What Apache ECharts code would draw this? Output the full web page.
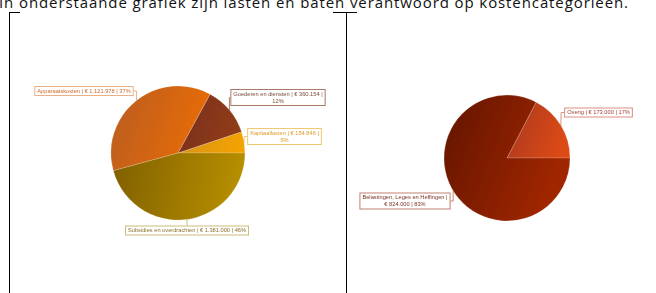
<!DOCTYPE html>
<html>
<head>
<meta charset="utf-8">
<script src="https://cdn.jsdelivr.net/npm/echarts@6/dist/echarts.min.js"></script>
<style>
html, body { margin: 0; padding: 0; background: #fff; }
#intro { position: absolute; left: -1px; top: -5px; font: 15px/15px 'Open Sans', sans-serif; letter-spacing: 0.9px; color: #111; white-space: nowrap; }
#chart { position: absolute; left: 0; top: 0; width: 656px; height: 293px; }
</style>
</head>
<body>
<div id="intro">In onderstaande grafiek zijn lasten en baten verantwoord op kostencategorieën.</div>
<div id="chart"></div>
<script>
// lasten (left pie), drawn counter-clockwise from 3 o'clock
const lastenNames = ['Kapitaallasten', 'Goederen en diensten', 'Apparaatskosten', 'Subsidies en overdrachten'];
const lastenValues = [154846, 360154, 1121978, 1381000];
// baten (right pie)
const batenNames = ['Overig', 'Belastingen, Leges en Heffingen'];
const batenValues = [173000, 824000];

// styling / layout
const lastenFill = [['#d8921a', '#f4a400'], ['#782e1c', '#903c18'], ['#b85c22', '#e86c06'], ['#806000', '#b89000']];
const lastenText = [['#dc9c28', '#f0c870'], ['#7a4a38', '#a87868'], ['#d06a2a', '#eab088'], ['#8a7028', '#cdbb78']];
const lastenLabelPos = [[284.5, 136.5], [278, 97.5], [84, 91], [187, 230.5]];
const lastenBreak = ['pct', 'pct', '', ''];

const batenFill = [['#a8381e', '#dc4a16'], ['#621400', '#a02600']];
const batenText = [['#a04030', '#d89080'], ['#7a3424', '#c08070']];
const batenLabelPos = [[598.5, 112.5], [405, 201]];
const batenBreak = ['', 'value'];

function euro(v) {
  return String(v).replace(/\B(?=(\d{3})+(?!\d))/g, '.');
}

function grad(c) {
  return new echarts.graphic.LinearGradient(0, 0, 1, 0.4, [
    { offset: 0, color: c[0] },
    { offset: 1, color: c[1] }
  ]);
}

function buildData(names, values, fill, text) {
  return names.map(function (n, i) {
    return {
      name: n,
      value: values[i],
      itemStyle: { color: grad(fill[i]) },
      label: { color: text[i][0], borderColor: text[i][1] },
      labelLine: { lineStyle: { color: text[i][1] } }
    };
  });
}

function pieSeries(data, center, radius, pos, breaks) {
  return {
    type: 'pie',
    center: center,
    radius: radius,
    startAngle: 0,
    clockwise: false,
    percentPrecision: 0,
    avoidLabelOverlap: false,
    emphasis: { disabled: true },
    itemStyle: { borderColor: 'rgba(255,255,255,0.35)', borderWidth: 0.5 },
    label: {
      show: true,
      position: 'outside',
      formatter: function (p) {
        const b = breaks[p.dataIndex];
        return p.name + ' |' + (b === 'value' ? '\n' : ' ') + '€ ' + euro(p.value) + ' |' +
          (b === 'pct' ? '\n' : ' ') + p.percent + '%';
      },
      fontFamily: 'Liberation Sans',
      fontSize: 5.7,
      lineHeight: 7,
      align: 'center',
      backgroundColor: '#fff',
      borderWidth: 1,
      padding: [1, 2, 0, 2]
    },
    labelLine: { show: true, length: 4, length2: 3, lineStyle: { width: 1 } },
    labelLayout: function (params) {
      const p = pos[params.dataIndex];
      return { x: p[0], y: p[1], align: 'center', verticalAlign: 'middle' };
    },
    data: data
  };
}

const chart = echarts.init(document.getElementById('chart'));

const option = {
  animation: false,
  graphic: [
    { type: 'line', shape: { x1: 9.5, y1: 12.5, x2: 20, y2: 12.5 }, style: { stroke: '#000', lineWidth: 1 } },
    { type: 'line', shape: { x1: 9.5, y1: 12, x2: 9.5, y2: 293 }, style: { stroke: '#000', lineWidth: 1 } },
    { type: 'line', shape: { x1: 333, y1: 12.5, x2: 357, y2: 12.5 }, style: { stroke: '#000', lineWidth: 1 } },
    { type: 'line', shape: { x1: 346.5, y1: 12, x2: 346.5, y2: 293 }, style: { stroke: '#000', lineWidth: 1 } }
  ],
  series: [
    pieSeries(buildData(lastenNames, lastenValues, lastenFill, lastenText), [178, 153], 67, lastenLabelPos, lastenBreak),
    pieSeries(buildData(batenNames, batenValues, batenFill, batenText), [507, 158], 63, batenLabelPos, batenBreak)
  ]
};

chart.setOption(option);
</script>
</body>
</html>
